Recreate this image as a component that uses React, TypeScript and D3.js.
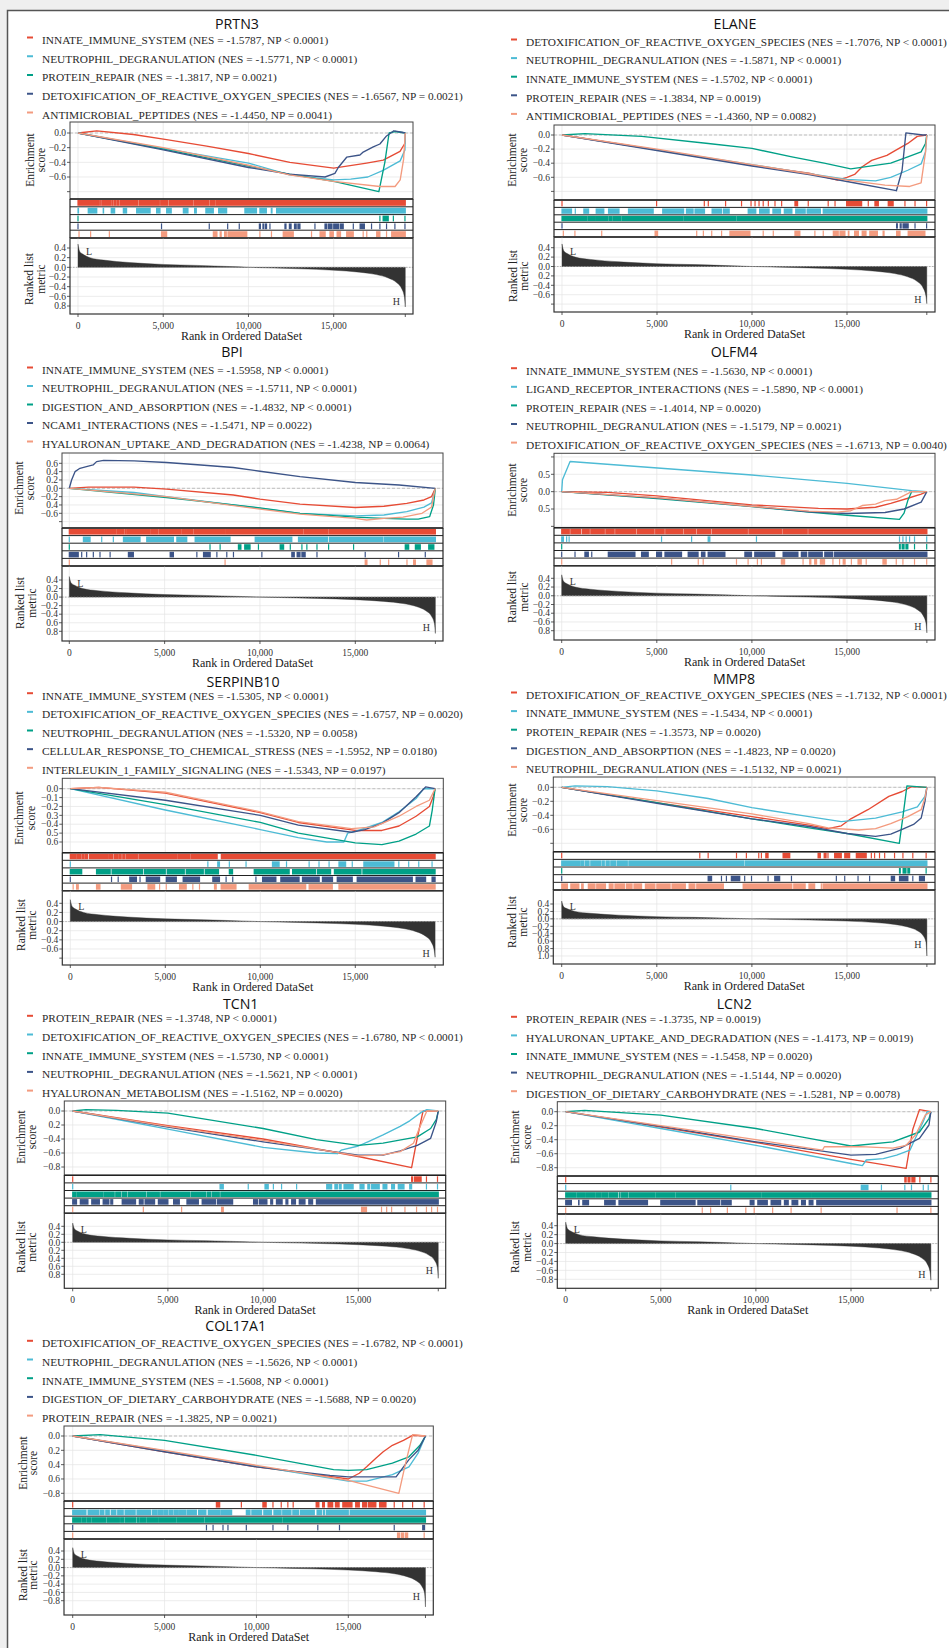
import React from 'react';
import * as d3 from 'd3';

type Pt = [number, number];
type Seg = [number, number];

const N_GENES = 19200;
const SET_COLORS = ['#E64B35', '#4DBBD5', '#00A087', '#3C5488', '#F39B7F'];
const panelTitles = ['PRTN3', 'ELANE', 'BPI', 'OLFM4', 'SERPINB10', 'MMP8', 'TCN1', 'LCN2', 'COL17A1'];
const xTickValues = [0, 5000, 10000, 15000];
const xTickLabels = ['0', '5,000', '10,000', '15,000'];

// shared ranked-list metric profile
const rankMetricRanks = [0, 30, 100, 300, 700, 1500, 3000, 5000, 7000, 9000, 10000, 11000, 13000, 15000, 16500, 17500, 18200, 18700, 19000, 19150, 19200];
const rankMetricValues = [0.48, 0.42, 0.33, 0.27, 0.2, 0.15, 0.1, 0.06, 0.04, 0.015, 0.0, -0.01, -0.03, -0.06, -0.1, -0.15, -0.22, -0.32, -0.45, -0.62, -0.82];
const rankMetricMinByPanel = [-0.82, -0.79, -0.85, -0.85, -0.78, -1.0, -0.9, -0.82, -0.95];

// ---------------- PRTN3 ----------------
const legendPRTN3 = [
  'INNATE_IMMUNE_SYSTEM (NES = -1.5787, NP < 0.0001)',
  'NEUTROPHIL_DEGRANULATION (NES = -1.5771, NP < 0.0001)',
  'PROTEIN_REPAIR (NES = -1.3817, NP = 0.0021)',
  'DETOXIFICATION_OF_REACTIVE_OXYGEN_SPECIES (NES = -1.6567, NP = 0.0021)',
  'ANTIMICROBIAL_PEPTIDES (NES = -1.4450, NP = 0.0041)',
];
const esPRTN3: Pt[][] = [
  [[0, 0], [1100, 0.03], [3250, -0.02], [5200, -0.09], [7550, -0.18], [10000, -0.28], [12430, -0.4], [15000, -0.48], [16930, -0.41], [17910, -0.37], [18890, -0.25], [19180, -0.14], [19200, 0]],
  [[0, 0], [5000, -0.21], [10000, -0.41], [12400, -0.57], [15000, -0.64], [16000, -0.63], [17000, -0.6], [17900, -0.51], [18900, -0.38], [19180, -0.23], [19200, 0]],
  [[0, 0], [5000, -0.22], [10000, -0.45], [12400, -0.56], [15000, -0.66], [17650, -0.8], [18000, -0.4], [18250, 0.0], [18600, 0.02], [19200, 0]],
  [[0, 0], [5000, -0.23], [10000, -0.47], [12400, -0.56], [14490, -0.6], [15070, -0.55], [15270, -0.47], [15760, -0.33], [16540, -0.3], [16730, -0.26], [17320, -0.19], [17710, -0.15], [18100, -0.04], [18530, 0.03], [19000, 0.01], [19200, 0]],
  [[0, 0], [5000, -0.2], [10000, -0.44], [12400, -0.57], [15000, -0.66], [17700, -0.73], [18600, -0.73], [18900, -0.64], [19100, -0.36], [19200, 0]],
];
const hitsPRTN3: Seg[][] = [
  [[0, 1250], [1330, 1360], [1430, 1900], [1980, 2040], [2110, 2240], [2310, 2400], [2470, 3500], [3580, 4770], [4850, 5260], [5340, 6720], [6800, 7660], [7740, 8050], [8130, 19200]],
  [[0, 30], [600, 1100], [1480, 1500], [1950, 2150], [2660, 2850], [3440, 4230], [4610, 4810], [5200, 5470], [6180, 6450], [6840, 6940], [7500, 7940], [8250, 8720], [9790, 10470], [10670, 11050], [11340, 11380], [11650, 19200]],
  [[0, 0], [17710, 17710], [17900, 18200], [18500, 18500], [19180, 19180]],
  [[0, 0], [4900, 4900], [7700, 7700], [8780, 8780], [9460, 9460], [10640, 10700], [10850, 10900], [11000, 11060], [11260, 11260], [12140, 12200], [12400, 12500], [12700, 12800], [12900, 13020], [13900, 13900], [14490, 14600], [14700, 14900], [15000, 15300], [15400, 15560], [16150, 16150], [16550, 16800], [17220, 17220], [17710, 17710], [18100, 18100], [18590, 18590], [19180, 19180]],
  [[60, 60], [740, 740], [1840, 1840], [4900, 5200], [7940, 8150], [8340, 8400], [8600, 8700], [8800, 9900], [10670, 10670], [11350, 11350], [12040, 12630], [13700, 13700], [14200, 14500], [14780, 14980], [15200, 15400], [15760, 16150], [16730, 16730], [16940, 16940], [17520, 17710], [18100, 18100], [18400, 19200]],
];
const esTickValsPRTN3 = [0, -0.2, -0.4, -0.6, -0.8];
const esTickLabsPRTN3 = ['0.0', '\u22120.2', '\u22120.4', '\u22120.6', ''];
const mTickValsPRTN3 = [0.4, 0.2, 0, -0.2, -0.4, -0.6, -0.8];
const mTickLabsPRTN3 = ['0.4', '0.2', '0.0', '\u22120.2', '\u22120.4', '\u22120.6', '0.8'];

// ---------------- ELANE ----------------
const legendELANE = [
  'DETOXIFICATION_OF_REACTIVE_OXYGEN_SPECIES (NES = -1.7076, NP < 0.0001)',
  'NEUTROPHIL_DEGRANULATION (NES = -1.5871, NP < 0.0001)',
  'INNATE_IMMUNE_SYSTEM (NES = -1.5702, NP < 0.0001)',
  'PROTEIN_REPAIR (NES = -1.3834, NP = 0.0019)',
  'ANTIMICROBIAL_PEPTIDES (NES = -1.4360, NP = 0.0082)',
];
const esELANE: Pt[][] = [
  [[0, 0], [5000, -0.21], [10000, -0.43], [13000, -0.54], [14500, -0.64], [15000, -0.6], [15400, -0.56], [15800, -0.45], [16300, -0.36], [17100, -0.29], [17600, -0.21], [18200, -0.12], [18700, -0.02], [19200, 0]],
  [[0, 0], [5000, -0.21], [10000, -0.42], [13000, -0.55], [15000, -0.63], [16500, -0.65], [17300, -0.6], [18200, -0.5], [18900, -0.41], [19130, -0.24], [19200, 0]],
  [[0, 0], [1200, 0.02], [4200, -0.02], [7700, -0.12], [10000, -0.19], [12100, -0.31], [13800, -0.4], [15200, -0.48], [17300, -0.4], [18200, -0.31], [18900, -0.24], [19130, -0.12], [19200, 0]],
  [[0, 0], [5000, -0.22], [10000, -0.44], [13000, -0.56], [15000, -0.66], [17600, -0.79], [17900, -0.5], [18100, 0.03], [19000, 0.0], [19200, 0]],
  [[0, 0], [5000, -0.2], [10000, -0.42], [13000, -0.55], [15000, -0.64], [17000, -0.71], [18300, -0.73], [18900, -0.68], [19130, -0.25], [19200, 0]],
];
const hitsELANE: Seg[][] = [
  [[0, 0], [4980, 4980], [7490, 7490], [7700, 7700], [8610, 8610], [9450, 9450], [9950, 9950], [10160, 10160], [10370, 10370], [10590, 10590], [10860, 10860], [11210, 11210], [11560, 11560], [12260, 12400], [12960, 12960], [14010, 14010], [14370, 14370], [14980, 15770], [16120, 16120], [16470, 16650], [17170, 17430], [18050, 18050], [18580, 18580], [19190, 19190]],
  [[0, 500], [700, 700], [1150, 1400], [1800, 2200], [2450, 3000], [3500, 4800], [5300, 6400], [6550, 6900], [7000, 7500], [7900, 8400], [8500, 8800], [9800, 10200], [10400, 10900], [11100, 11500], [11700, 12100], [12300, 12800], [12900, 13600], [13750, 19200]],
  [[0, 1300], [1360, 1710], [1770, 1970], [2030, 2410], [2470, 2640], [2700, 3110], [3170, 6180], [6240, 6350], [6410, 9160], [9220, 10920], [10980, 19200]],
  [[0, 0], [17610, 17650], [17800, 17850], [17950, 18220], [18580, 18580], [19190, 19190]],
  [[70, 70], [680, 680], [2090, 2090], [4900, 5030], [7090, 7090], [7440, 7440], [7880, 7880], [8400, 8400], [8840, 9890], [10590, 10590], [11120, 11120], [12260, 12520], [13310, 13310], [13750, 13750], [14280, 14540], [14630, 14890], [15070, 15100], [15400, 15600], [15800, 16000], [16200, 16600], [16900, 16950], [17610, 17790], [18220, 19100]],
];
const esTickValsELANE = [0, -0.2, -0.4, -0.6, -0.8];
const esTickLabsELANE = ['0.0', '\u22120.2', '\u22120.4', '\u22120.6', ''];
const mTickValsELANE = [0.4, 0.2, 0, -0.2, -0.4, -0.6, -0.8];
const mTickLabsELANE = ['0.4', '0.2', '0.0', '0.2', '\u22120.4', '\u22120.6', ''];

// ---------------- BPI ----------------
const legendBPI = [
  'INNATE_IMMUNE_SYSTEM (NES = -1.5958, NP < 0.0001)',
  'NEUTROPHIL_DEGRANULATION (NES = -1.5711, NP < 0.0001)',
  'DIGESTION_AND_ABSORPTION (NES = -1.4832, NP < 0.0001)',
  'NCAM1_INTERACTIONS (NES = -1.5471, NP = 0.0022)',
  'HYALURONAN_UPTAKE_AND_DEGRADATION (NES = -1.4238, NP = 0.0064)',
];
const esBPI: Pt[][] = [
  [[0, 0], [1000, 0.03], [3400, 0.03], [5100, -0.02], [8600, -0.16], [10000, -0.26], [12100, -0.38], [15000, -0.46], [16500, -0.43], [17700, -0.36], [18600, -0.28], [19000, -0.2], [19200, 0]],
  [[0, 0], [3400, -0.1], [5100, -0.2], [8600, -0.4], [10000, -0.48], [12100, -0.6], [15000, -0.66], [16500, -0.64], [17700, -0.56], [18600, -0.45], [19000, -0.35], [19200, 0]],
  [[0, 0], [5100, -0.22], [10000, -0.47], [12100, -0.6], [15000, -0.69], [16500, -0.72], [17700, -0.74], [18300, -0.74], [18900, -0.68], [19100, -0.4], [19200, 0]],
  [[0, 0], [120, 0.2], [300, 0.4], [560, 0.48], [900, 0.52], [1250, 0.56], [1430, 0.64], [1800, 0.67], [3400, 0.66], [5100, 0.62], [6900, 0.56], [8600, 0.5], [10000, 0.41], [12100, 0.28], [15000, 0.14], [17300, 0.08], [19200, 0]],
  [[0, 0], [5100, -0.2], [10000, -0.5], [12100, -0.62], [15000, -0.72], [15600, -0.76], [16500, -0.72], [17500, -0.69], [18500, -0.6], [19000, -0.45], [19100, -0.2], [19200, 0]],
];
const hitsBPI: Seg[][] = [
  [[0, 530], [590, 1580], [1640, 2460], [2520, 2630], [2690, 2860], [2920, 2950], [3010, 4210], [4270, 4640], [4700, 5870], [5930, 6480], [6540, 8140], [8200, 12260], [12320, 13570], [13630, 19200]],
  [[0, 0], [740, 1090], [1700, 1700], [2310, 2310], [2840, 3710], [4060, 5460], [5640, 6160], [6600, 8430], [9750, 11670], [12020, 13550], [13650, 16450], [16530, 19200]],
  [[0, 0], [7380, 7380], [7910, 7910], [8870, 9000], [9200, 9480], [9920, 9920], [11060, 11240], [11590, 11590], [12200, 12200], [12460, 12460], [12990, 12990], [13600, 13600], [14910, 14910], [17620, 17800], [18150, 18410], [18850, 19120]],
  [[0, 470], [650, 650], [910, 910], [1260, 1260], [1610, 1610], [2140, 2140], [3100, 3360], [5290, 5460], [6690, 6690], [7040, 7390], [7740, 7740], [8260, 8260], [8610, 8610], [10100, 10100], [11670, 11800], [11950, 12100], [12200, 12370], [12990, 12990], [15520, 15520], [17270, 17270], [18670, 18670]],
  [[0, 0], [8170, 8170], [15520, 15610], [16310, 16310], [16750, 16750], [17710, 17710], [18060, 18150], [18760, 19020]],
];
const esTickValsBPI = [0.6, 0.4, 0.2, 0, -0.2, -0.4, -0.6, -0.8];
const esTickLabsBPI = ['0.6', '0.4', '0.2', '0.0', '\u22120.2', '0.4', '\u22120.6', ''];
const mTickValsBPI = [0.4, 0.2, 0, -0.2, -0.4, -0.6, -0.8];
const mTickLabsBPI = ['0.4', '0.2', '0.0', '\u22120.2', '\u22120.4', '0.6', '0.8'];

// ---------------- OLFM4 ----------------
const legendOLFM4 = [
  'INNATE_IMMUNE_SYSTEM (NES = -1.5630, NP < 0.0001)',
  'LIGAND_RECEPTOR_INTERACTIONS (NES = -1.5890, NP < 0.0001)',
  'PROTEIN_REPAIR (NES = -1.4014, NP = 0.0020)',
  'NEUTROPHIL_DEGRANULATION (NES = -1.5179, NP = 0.0021)',
  'DETOXIFICATION_OF_REACTIVE_OXYGEN_SPECIES (NES = -1.6713, NP = 0.0040)',
];
const esOLFM4: Pt[][] = [
  [[0, 0], [2400, -0.02], [5000, -0.12], [10000, -0.38], [13500, -0.48], [15000, -0.5], [16500, -0.45], [17300, -0.34], [18200, -0.19], [18900, -0.07], [19200, 0]],
  [[0, 0], [40, 0.34], [440, 0.87], [10000, 0.48], [15000, 0.24], [18400, 0.03], [19200, 0]],
  [[0, 0], [5000, -0.2], [10000, -0.43], [13000, -0.59], [15000, -0.68], [17760, -0.8], [18000, -0.62], [18200, -0.25], [18400, 0.0], [19200, 0]],
  [[0, 0], [5000, -0.18], [10000, -0.42], [13000, -0.58], [15000, -0.63], [17000, -0.6], [18000, -0.5], [18900, -0.3], [19200, 0]],
  [[0, 0], [5000, -0.17], [10000, -0.42], [13000, -0.56], [14500, -0.59], [15200, -0.55], [15800, -0.4], [16500, -0.36], [17000, -0.26], [17600, -0.22], [18400, 0.0], [19200, 0]],
];
const hitsOLFM4: Seg[][] = [
  [[0, 400], [480, 1000], [1090, 1450], [1530, 2240], [2320, 2760], [2840, 3900], [3980, 4860], [4940, 5390], [5470, 6350], [6430, 7050], [7130, 7840], [7920, 9760], [9840, 11550], [11630, 12910], [12990, 19200]],
  [[0, 90], [260, 260], [390, 390], [5250, 5250], [6830, 6830], [7700, 7790], [10240, 10240], [17760, 17760], [17940, 17940], [18110, 18110], [18290, 18290], [18550, 18550], [19190, 19190]],
  [[0, 0], [17760, 17800], [17900, 18000], [18100, 18200], [18550, 18550], [19190, 19190]],
  [[0, 0], [700, 700], [1220, 1400], [1580, 1580], [2450, 3850], [4200, 4550], [4990, 5250], [5430, 6300], [6650, 7170], [7350, 7530], [7700, 8580], [9630, 9980], [10150, 11200], [11640, 12420], [12600, 12880], [12990, 13700], [13830, 14250], [14350, 19200]],
  [[0, 0], [5780, 5780], [7180, 7180], [7440, 7440], [9190, 9190], [9800, 9800], [10290, 10290], [10500, 10500], [11550, 11720], [12690, 12690], [13040, 13100], [13300, 13400], [13600, 13820], [14260, 14260], [14610, 14610], [14800, 14900], [15230, 15230], [15580, 15750], [16010, 16010], [16890, 17060], [17590, 17590], [17940, 17940], [18550, 18550], [19190, 19190]],
];
const esTickValsOLFM4 = [1.0, 0.5, 0, -0.5, -1.0];
const esTickLabsOLFM4 = ['', '0.5', '0.0', '0.5', ''];
const mTickValsOLFM4 = [0.4, 0.2, 0, -0.2, -0.4, -0.6, -0.8];
const mTickLabsOLFM4 = ['0.4', '0.2', '0.0', '\u22120.2', '\u22120.4', '\u22120.6', '0.8'];

// ---------------- SERPINB10 ----------------
const legendSERPINB10 = [
  'INNATE_IMMUNE_SYSTEM (NES = -1.5305, NP < 0.0001)',
  'DETOXIFICATION_OF_REACTIVE_OXYGEN_SPECIES (NES = -1.6757, NP = 0.0020)',
  'NEUTROPHIL_DEGRANULATION (NES = -1.5320, NP = 0.0058)',
  'CELLULAR_RESPONSE_TO_CHEMICAL_STRESS (NES = -1.5952, NP = 0.0180)',
  'INTERLEUKIN_1_FAMILY_SIGNALING (NES = -1.5343, NP = 0.0197)',
];
const esSERPINB10: Pt[][] = [
  [[0, 0], [1500, 0.015], [5000, -0.05], [10000, -0.27], [12000, -0.38], [15000, -0.47], [16400, -0.47], [17300, -0.42], [18200, -0.31], [18900, -0.2], [19100, -0.09], [19200, 0]],
  [[0, 0], [5000, -0.24], [10000, -0.46], [12000, -0.55], [13500, -0.6], [14400, -0.6], [14600, -0.5], [15000, -0.48], [16400, -0.38], [17300, -0.26], [18200, -0.11], [18600, 0.0], [19200, 0]],
  [[0, 0], [5000, -0.18], [10000, -0.38], [12000, -0.5], [15000, -0.61], [16400, -0.63], [17300, -0.59], [18200, -0.51], [18900, -0.42], [19050, -0.24], [19200, 0]],
  [[0, 0], [5000, -0.13], [10000, -0.3], [12000, -0.41], [14800, -0.49], [15500, -0.46], [16400, -0.39], [17300, -0.27], [18200, -0.09], [18700, 0.02], [19200, 0]],
  [[0, 0], [1500, 0.015], [5000, -0.04], [10000, -0.26], [12000, -0.37], [14800, -0.45], [16000, -0.43], [17300, -0.31], [18200, -0.2], [18900, -0.13], [19200, 0]],
];
const hitsSERPINB10: Seg[][] = [
  [[0, 310], [360, 560], [620, 730], [790, 900], [1000, 1960], [2020, 2220], [2300, 2490], [2550, 2680], [2760, 2860], [2930, 3530], [3610, 5630], [5700, 6300], [6360, 7730], [7950, 19200]],
  [[0, 0], [7240, 7240], [7760, 7850], [8370, 8370], [9250, 9250], [10640, 10990], [11380, 11380], [12570, 12570], [13090, 13090], [13620, 13620], [14140, 14490], [14840, 14840], [15450, 17030], [17290, 17290], [17810, 17810], [18340, 18340], [19040, 19040]],
  [[0, 600], [1380, 2100], [2200, 3800], [3900, 5000], [5100, 6000], [6100, 7000], [7100, 7800], [8370, 8540], [9680, 11520], [11700, 12900], [13000, 13700], [13900, 15300], [15400, 19200]],
  [[0, 0], [2170, 2170], [2520, 2520], [3130, 3480], [3670, 3670], [4000, 4700], [5050, 5580], [5940, 6800], [7500, 7850], [8200, 8200], [8550, 8550], [9770, 9770], [10120, 10820], [11080, 12040], [12220, 13100], [13270, 13800], [14050, 14840], [15100, 18000], [18200, 18700], [19040, 19200]],
  [[150, 150], [330, 420], [1380, 1560], [2690, 3220], [4090, 4440], [4700, 4700], [5050, 5050], [5750, 6100], [6450, 6450], [6800, 6800], [7590, 7680], [7940, 8720], [9420, 12390], [12570, 13790], [14140, 19200]],
];
const esTickValsSERPINB10 = [0, -0.1, -0.2, -0.3, -0.4, -0.5, -0.6];
const esTickLabsSERPINB10 = ['0.0', '\u22120.1', '\u22120.2', '0.3', '\u22120.4', '0.5', '0.6'];
const mTickValsSERPINB10 = [0.4, 0.2, 0, -0.2, -0.4, -0.6, -0.8];
const mTickLabsSERPINB10 = ['0.4', '0.2', '0.0', '0.2', '\u22120.4', '\u22120.6', ''];

// ---------------- MMP8 ----------------
const legendMMP8 = [
  'DETOXIFICATION_OF_REACTIVE_OXYGEN_SPECIES (NES = -1.7132, NP < 0.0001)',
  'INNATE_IMMUNE_SYSTEM (NES = -1.5434, NP < 0.0001)',
  'PROTEIN_REPAIR (NES = -1.3573, NP = 0.0020)',
  'DIGESTION_AND_ABSORPTION (NES = -1.4823, NP = 0.0020)',
  'NEUTROPHIL_DEGRANULATION (NES = -1.5132, NP = 0.0021)',
];
const esMMP8: Pt[][] = [
  [[0, 0], [5000, -0.22], [10000, -0.42], [13000, -0.54], [14000, -0.59], [14700, -0.55], [15200, -0.45], [16100, -0.32], [17200, -0.13], [17900, -0.06], [18400, 0.01], [19200, 0]],
  [[0, 0], [700, 0.02], [2400, 0.01], [5000, -0.05], [7700, -0.16], [10000, -0.29], [13000, -0.42], [14700, -0.49], [16500, -0.44], [17900, -0.35], [18700, -0.28], [19100, -0.13], [19200, 0]],
  [[0, 0], [5000, -0.22], [10000, -0.45], [13000, -0.58], [15000, -0.66], [17750, -0.8], [17950, -0.4], [18150, 0.02], [19200, 0]],
  [[0, 0], [5000, -0.23], [10000, -0.45], [13000, -0.56], [15000, -0.66], [16500, -0.7], [17300, -0.67], [17900, -0.6], [18500, -0.53], [18900, -0.44], [19100, -0.2], [19200, 0]],
  [[0, 0], [5000, -0.19], [10000, -0.38], [13000, -0.52], [14000, -0.58], [15600, -0.61], [16500, -0.59], [17300, -0.52], [18200, -0.42], [18900, -0.32], [19100, -0.15], [19200, 0]],
];
const hitsMMP8: Seg[][] = [
  [[0, 0], [7260, 7260], [7700, 7700], [9190, 9190], [9710, 9710], [10360, 10360], [10500, 10500], [10730, 10850], [11640, 11990], [13480, 13600], [13800, 13900], [14000, 14000], [14350, 14700], [14880, 15140], [15490, 16010], [16280, 16280], [16450, 16450], [16710, 16710], [16980, 16980], [17500, 17500], [17940, 17940], [18460, 18460], [19160, 19160]],
  [[0, 930], [1000, 1150], [1230, 1440], [1530, 2070], [2150, 2240], [2330, 2500], [2580, 2850], [2930, 3450], [3530, 9580], [9660, 19200]],
  [[0, 0], [17760, 17800], [17950, 18100], [18200, 18290], [19160, 19160]],
  [[0, 0], [7700, 7880], [8400, 8400], [8660, 8660], [8920, 9360], [9620, 9620], [9980, 9980], [10850, 10850], [11200, 11460], [12080, 12080], [14440, 14440], [14880, 14880], [15580, 15580], [16190, 16190], [17330, 17500], [17760, 18200], [18460, 18460], [18810, 19070]],
  [[0, 300], [480, 900], [1050, 1130], [1400, 1750], [1840, 2300], [2500, 2700], [2800, 3300], [3400, 3700], [3800, 4200], [4400, 4900], [5000, 5700], [5800, 6500], [6700, 7000], [7100, 8500], [9540, 12100], [12200, 12800], [13000, 13300], [13650, 13650], [13740, 19200]],
];
const esTickValsMMP8 = [0, -0.2, -0.4, -0.6, -0.8];
const esTickLabsMMP8 = ['0.0', '\u22120.2', '\u22120.4', '\u22120.6', ''];
const mTickValsMMP8 = [0.4, 0.2, 0, -0.2, -0.4, -0.6, -0.8, -1.0];
const mTickLabsMMP8 = ['0.4', '0.2', '0.0', '\u22120.2', '\u22120.4', '0.6', '0.8', '1.0'];

// ---------------- TCN1 ----------------
const legendTCN1 = [
  'PROTEIN_REPAIR (NES = -1.3748, NP < 0.0001)',
  'DETOXIFICATION_OF_REACTIVE_OXYGEN_SPECIES (NES = -1.6780, NP < 0.0001)',
  'INNATE_IMMUNE_SYSTEM (NES = -1.5730, NP < 0.0001)',
  'NEUTROPHIL_DEGRANULATION (NES = -1.5621, NP < 0.0001)',
  'HYALURONAN_METABOLISM (NES = -1.5162, NP = 0.0020)',
];
const esTCN1: Pt[][] = [
  [[0, 0], [5000, -0.21], [10000, -0.4], [15000, -0.65], [17800, -0.81], [18050, -0.45], [18400, 0.0], [19200, 0]],
  [[0, 0], [5000, -0.26], [10000, -0.52], [12800, -0.6], [13900, -0.61], [14100, -0.56], [15000, -0.5], [15500, -0.44], [16300, -0.34], [17200, -0.22], [17700, -0.14], [18300, -0.02], [18600, 0.02], [19200, 0]],
  [[0, 0], [700, 0.02], [2300, 0.01], [5000, -0.03], [10000, -0.25], [12800, -0.41], [15000, -0.49], [16300, -0.46], [18100, -0.37], [18800, -0.25], [19100, -0.12], [19200, 0]],
  [[0, 0], [5000, -0.23], [10000, -0.44], [15000, -0.63], [16300, -0.63], [17200, -0.57], [18100, -0.49], [18800, -0.39], [19100, -0.15], [19200, 0]],
  [[0, 0], [5000, -0.22], [10000, -0.42], [15000, -0.64], [16200, -0.63], [17200, -0.58], [17900, -0.46], [18200, -0.25], [18600, 0.0], [19200, 0]],
];
const hitsTCN1: Seg[][] = [
  [[0, 0], [17800, 17850], [17950, 18300], [18580, 18580], [19160, 19160]],
  [[0, 0], [7740, 7910], [9220, 9220], [10100, 10270], [10540, 10540], [10970, 10970], [11760, 11760], [13340, 13600], [13770, 13900], [14000, 14100], [14250, 14730], [15090, 15300], [15500, 15600], [15700, 16100], [16300, 16500], [16750, 16900], [17100, 17400], [17700, 17800], [18580, 18580], [19160, 19160]],
  [[0, 180], [240, 1580], [1640, 2180], [2260, 2520], [2600, 2830], [2910, 3840], [3920, 4550], [4630, 6130], [6210, 7000], [7080, 7260], [7340, 7700], [7780, 19200]],
  [[0, 200], [400, 800], [1000, 1400], [1600, 1900], [2000, 2100], [2600, 3300], [3500, 3700], [3800, 4300], [4500, 5000], [5300, 5600], [6000, 6600], [6800, 7500], [7600, 8400], [9500, 9700], [9800, 10200], [10400, 10500], [10700, 11000], [11200, 11300], [11500, 11700], [11900, 12200], [12400, 12600], [12800, 19200]],
  [[0, 0], [3710, 3710], [5720, 5720], [7820, 7910], [15170, 15430], [16220, 16220], [16490, 16490], [16750, 16750], [17450, 17450], [18060, 18060], [18580, 18580], [18850, 18850], [19160, 19160]],
];
const esTickValsTCN1 = [0, -0.2, -0.4, -0.6, -0.8];
const esTickLabsTCN1 = ['0.0', '0.2', '\u22120.4', '\u22120.6', '\u22120.8'];
const mTickValsTCN1 = [0.4, 0.2, 0, -0.2, -0.4, -0.6, -0.8];
const mTickLabsTCN1 = ['0.4', '0.2', '0.0', '0.2', '0.4', '0.6', '0.8'];

// ---------------- LCN2 ----------------
const legendLCN2 = [
  'PROTEIN_REPAIR (NES = -1.3735, NP = 0.0019)',
  'HYALURONAN_UPTAKE_AND_DEGRADATION (NES = -1.4173, NP = 0.0019)',
  'INNATE_IMMUNE_SYSTEM (NES = -1.5458, NP = 0.0020)',
  'NEUTROPHIL_DEGRANULATION (NES = -1.5144, NP = 0.0020)',
  'DIGESTION_OF_DIETARY_CARBOHYDRATE (NES = -1.5281, NP = 0.0078)',
];
const esLCN2: Pt[][] = [
  [[0, 0], [5000, -0.22], [10000, -0.44], [15000, -0.68], [17900, -0.81], [18250, -0.25], [18600, 0.03], [19200, 0]],
  [[0, 0], [5000, -0.24], [10000, -0.48], [15000, -0.74], [15600, -0.77], [15800, -0.69], [16700, -0.67], [17400, -0.62], [18100, -0.55], [18300, -0.43], [18800, -0.14], [19000, 0.0], [19200, 0]],
  [[0, 0], [1000, 0.02], [5000, -0.05], [10000, -0.24], [12800, -0.38], [15000, -0.49], [17200, -0.43], [18600, -0.29], [19100, -0.1], [19200, 0]],
  [[0, 0], [5000, -0.21], [10000, -0.43], [15000, -0.62], [16300, -0.61], [17600, -0.52], [18600, -0.38], [19100, -0.19], [19200, 0]],
  [[0, 0], [5000, -0.2], [10000, -0.4], [12800, -0.52], [13500, -0.55], [13600, -0.5], [15500, -0.5], [17200, -0.52], [17900, -0.48], [18400, -0.33], [18900, -0.05], [19200, 0]],
];
const hitsLCN2: Seg[][] = [
  [[0, 0], [17830, 17900], [18000, 18100], [18200, 18360], [18620, 18620], [19200, 19200]],
  [[0, 0], [8680, 8680], [15540, 15890], [16600, 16600], [17830, 17830], [18180, 18180], [18800, 18800], [19060, 19060]],
  [[0, 550], [610, 990], [1050, 1520], [1580, 1870], [1930, 2220], [2280, 2740], [2830, 2860], [2940, 3270], [3340, 4680], [4740, 5740], [5800, 10280], [10340, 12870], [12930, 19200]],
  [[0, 300], [680, 700], [900, 1200], [2050, 2600], [2800, 4300], [5000, 6800], [6950, 8100], [8200, 8700], [9700, 9900], [10100, 10600], [10800, 11300], [11500, 11700], [11900, 12200], [12400, 12600], [12800, 13000], [13200, 19200]],
  [[0, 0], [7180, 7180], [7620, 7620], [8500, 8500], [9470, 9470], [9910, 9910], [10880, 10880], [11850, 11850], [13430, 13430], [17420, 17420], [19200, 19200]],
];
const esTickValsLCN2 = [0, -0.2, -0.4, -0.6, -0.8];
const esTickLabsLCN2 = ['0.0', '0.2', '\u22120.4', '\u22120.6', '\u22120.8'];
const mTickValsLCN2 = [0.4, 0.2, 0, -0.2, -0.4, -0.6, -0.8];
const mTickLabsLCN2 = ['0.4', '0.2', '0.0', '0.2', '\u22120.4', '\u22120.6', '\u22120.8'];

// ---------------- COL17A1 ----------------
const legendCOL17A1 = [
  'DETOXIFICATION_OF_REACTIVE_OXYGEN_SPECIES (NES = -1.6782, NP < 0.0001)',
  'NEUTROPHIL_DEGRANULATION (NES = -1.5626, NP < 0.0001)',
  'INNATE_IMMUNE_SYSTEM (NES = -1.5608, NP < 0.0001)',
  'DIGESTION_OF_DIETARY_CARBOHYDRATE (NES = -1.5688, NP = 0.0020)',
  'PROTEIN_REPAIR (NES = -1.3825, NP = 0.0021)',
];
const esCOL17A1: Pt[][] = [
  [[0, 0], [5000, -0.22], [10000, -0.43], [14200, -0.57], [15000, -0.6], [15600, -0.52], [16000, -0.43], [16500, -0.31], [16900, -0.22], [17400, -0.13], [18000, -0.06], [18500, 0.01], [19200, 0]],
  [[0, 0], [5000, -0.21], [10000, -0.42], [15000, -0.63], [16000, -0.63], [17400, -0.54], [18300, -0.43], [18800, -0.24], [19200, 0]],
  [[0, 0], [1500, 0.02], [5000, -0.06], [10000, -0.27], [14200, -0.47], [15000, -0.48], [16000, -0.47], [17400, -0.38], [18300, -0.29], [18900, -0.13], [19200, 0]],
  [[0, 0], [5000, -0.22], [10000, -0.43], [14000, -0.55], [15000, -0.57], [17600, -0.57], [18300, -0.33], [18800, -0.2], [19200, 0]],
  [[0, 0], [5000, -0.2], [10000, -0.41], [15000, -0.62], [17750, -0.8], [18100, -0.4], [18500, 0.02], [19200, 0]],
];
const hitsCOL17A1: Seg[][] = [
  [[0, 0], [7820, 8000], [9180, 9180], [10350, 10530], [10900, 10900], [11350, 11350], [11710, 11710], [12000, 12000], [13250, 13400], [13600, 13700], [13900, 14150], [14300, 14500], [14700, 15200], [15400, 15600], [15780, 16000], [16100, 16500], [16700, 17050], [17500, 17500], [17960, 17960], [18500, 18500], [19130, 19130]],
  [[0, 720], [840, 1420], [1500, 1700], [1800, 1990], [2100, 2350], [2450, 2750], [2850, 3400], [3500, 4230], [4330, 4560], [4630, 4930], [5000, 5180], [5250, 5460], [5530, 5750], [5820, 6170], [6250, 6730], [6850, 7250], [7380, 7990], [8060, 8650], [9450, 9650], [9750, 10280], [10400, 10820], [10950, 11340], [11430, 11880], [11980, 12300], [12400, 13150], [13300, 13550], [13650, 13700], [13800, 15000], [15100, 19200]],
  [[0, 460], [520, 730], [790, 1000], [1060, 1810], [1880, 2540], [2610, 2780], [2850, 3420], [3500, 3620], [3680, 3980], [4040, 4620], [4680, 5610], [5670, 7150], [7220, 11400], [11470, 19200]],
  [[0, 0], [7280, 7280], [7640, 7640], [8180, 8180], [8450, 8450], [9450, 9450], [10900, 10900], [11710, 11710], [13340, 13340], [14520, 14520], [17500, 17500], [19050, 19150]],
  [[0, 0], [17680, 17800], [17900, 18000], [18100, 18230], [19130, 19130]],
];
const esTickValsCOL17A1 = [0, -0.2, -0.4, -0.6, -0.8];
const esTickLabsCOL17A1 = ['0.0', '0.2', '0.4', '0.6', '\u22120.8'];
const mTickValsCOL17A1 = [0.4, 0.2, 0, -0.2, -0.4, -0.6, -0.8];
const mTickLabsCOL17A1 = ['0.4', '0.2', '0.0', '\u22120.2', '\u22120.4', '\u22120.6', '\u22120.8'];

// ---------------- layout (pixel positions only) ----------------
type Layout = {
  title: [number, number];
  legend: [number, number, number, number];
  left: number; right: number; esTop: number; esBottom: number; trackBottom: number; rankBottom: number;
  x0: number; x15: number;
  esA: [number, number][]; mA: [number, number][];
  esLab: [number, number, number]; rkLab: [number, number, number];
};
const layouts: Layout[] = [
  { title: [237, 24], legend: [27, 42, 40, 18.75], left: 70, right: 413, esTop: 122, esBottom: 199, trackBottom: 238, rankBottom: 314, x0: 78, x15: 333.7, esA: [[0, 133], [-0.6, 177]], mA: [[0.4, 248], [-0.8, 306]], esLab: [30, 41, 160], rkLab: [29, 41, 279] },
  { title: [735, 24], legend: [511, 526, 42, 18.6], left: 554, right: 935, esTop: 125, esBottom: 200, trackBottom: 237, rankBottom: 312, x0: 562, x15: 847, esA: [[0, 135], [-0.6, 177.3]], mA: [[0.4, 247.7], [-0.6, 294.7]], esLab: [512, 523, 160], rkLab: [513, 524, 276] },
  { title: [232, 352], legend: [27, 42, 370, 18.5], left: 62, right: 443, esTop: 453, esBottom: 528, trackBottom: 566, rankBottom: 641, x0: 69.3, x15: 355.3, esA: [[0.6, 463.3], [-0.6, 513.3]], mA: [[0.4, 580], [-0.8, 631.3]], esLab: [19, 30, 488], rkLab: [20, 32, 603] },
  { title: [734, 352], legend: [511, 526, 370.7, 18.6], left: 554, right: 935, esTop: 453.3, esBottom: 527.7, trackBottom: 565.7, rankBottom: 640, x0: 561.7, x15: 847, esA: [[0.5, 474.3], [-0.5, 509]], mA: [[0.4, 578.3], [-0.8, 630.7]], esLab: [512, 523, 490], rkLab: [512, 524, 597] },
  { title: [243, 681.7], legend: [27, 42, 695.7, 18.65], left: 62.3, right: 443.3, esTop: 778.3, esBottom: 852.7, trackBottom: 890.7, rankBottom: 965, x0: 70.3, x15: 355.3, esA: [[0, 788.7], [-0.6, 842]], mA: [[0.4, 903.3], [-0.6, 949]], esLab: [19, 31, 818], rkLab: [21, 32, 925] },
  { title: [734, 678.3], legend: [511, 526, 695, 18.6], left: 553.3, right: 935, esTop: 777, esBottom: 851.7, trackBottom: 890, rankBottom: 964, x0: 561.7, x15: 847, esA: [[0, 787.3], [-0.6, 829.3]], mA: [[0.4, 904], [-1.0, 956]], esLab: [512, 523, 810], rkLab: [512, 523, 922] },
  { title: [240.7, 1003.3], legend: [27, 42, 1018.3, 18.7], left: 64.3, right: 445.7, esTop: 1101, esBottom: 1175.3, trackBottom: 1213.3, rankBottom: 1288.3, x0: 72.7, x15: 358.3, esA: [[0, 1111], [-0.8, 1167]], mA: [[0.4, 1226.3], [-0.8, 1274.3]], esLab: [21, 32, 1137], rkLab: [21, 32, 1247] },
  { title: [734.3, 1003.3], legend: [511, 526, 1019.3, 18.6], left: 557.3, right: 938.3, esTop: 1101.7, esBottom: 1176, trackBottom: 1214, rankBottom: 1288.3, x0: 565.7, x15: 851, esA: [[0, 1111.7], [-0.8, 1167.7]], mA: [[0.4, 1225.7], [-0.8, 1279.3]], esLab: [515, 527, 1137], rkLab: [515, 527, 1247] },
  { title: [235.7, 1326], legend: [27, 42, 1343.3, 18.7], left: 64, right: 433.3, esTop: 1426, esBottom: 1501, trackBottom: 1539, rankBottom: 1615, x0: 72.7, x15: 348.3, esA: [[0, 1436], [-0.8, 1493.3]], mA: [[0.4, 1551], [-0.8, 1600.7]], esLab: [23, 33, 1463], rkLab: [23, 33, 1575] },
];

const panelData = [
  { legend: legendPRTN3, es: esPRTN3, hits: hitsPRTN3, esTV: esTickValsPRTN3, esTL: esTickLabsPRTN3, mTV: mTickValsPRTN3, mTL: mTickLabsPRTN3 },
  { legend: legendELANE, es: esELANE, hits: hitsELANE, esTV: esTickValsELANE, esTL: esTickLabsELANE, mTV: mTickValsELANE, mTL: mTickLabsELANE },
  { legend: legendBPI, es: esBPI, hits: hitsBPI, esTV: esTickValsBPI, esTL: esTickLabsBPI, mTV: mTickValsBPI, mTL: mTickLabsBPI },
  { legend: legendOLFM4, es: esOLFM4, hits: hitsOLFM4, esTV: esTickValsOLFM4, esTL: esTickLabsOLFM4, mTV: mTickValsOLFM4, mTL: mTickLabsOLFM4 },
  { legend: legendSERPINB10, es: esSERPINB10, hits: hitsSERPINB10, esTV: esTickValsSERPINB10, esTL: esTickLabsSERPINB10, mTV: mTickValsSERPINB10, mTL: mTickLabsSERPINB10 },
  { legend: legendMMP8, es: esMMP8, hits: hitsMMP8, esTV: esTickValsMMP8, esTL: esTickLabsMMP8, mTV: mTickValsMMP8, mTL: mTickLabsMMP8 },
  { legend: legendTCN1, es: esTCN1, hits: hitsTCN1, esTV: esTickValsTCN1, esTL: esTickLabsTCN1, mTV: mTickValsTCN1, mTL: mTickLabsTCN1 },
  { legend: legendLCN2, es: esLCN2, hits: hitsLCN2, esTV: esTickValsLCN2, esTL: esTickLabsLCN2, mTV: mTickValsLCN2, mTL: mTickLabsLCN2 },
  { legend: legendCOL17A1, es: esCOL17A1, hits: hitsCOL17A1, esTV: esTickValsCOL17A1, esTL: esTickLabsCOL17A1, mTV: mTickValsCOL17A1, mTL: mTickLabsCOL17A1 },
];

const SERIF = "'Liberation Serif', 'Times New Roman', serif";
const SANS = "'Open Sans', 'Liberation Sans', sans-serif";
const GRID = '#e4e4e4';

function GseaPanel({ idx }: { idx: number }) {
  const L = layouts[idx];
  const d = panelData[idx];
  const x = d3.scaleLinear().domain([0, 15000]).range([L.x0, L.x15]);
  const yEs = d3.scaleLinear().domain([L.esA[0][0], L.esA[1][0]]).range([L.esA[0][1], L.esA[1][1]]);
  const yM = d3.scaleLinear().domain([L.mA[0][0], L.mA[1][0]]).range([L.mA[0][1], L.mA[1][1]]);
  const line = d3.line<Pt>().x((p) => x(p[0])).y((p) => yEs(p[1]));
  const last = rankMetricRanks.length - 1;
  const metricPts: Pt[] = rankMetricRanks.map((r, i) => [r, i === last ? rankMetricMinByPanel[idx] : rankMetricValues[i]]);
  const area = d3.area<Pt>().x((p) => x(p[0])).y0(yM(0)).y1((p) => yM(p[1])).curve(d3.curveMonotoneX);
  const rowH = (L.trackBottom - L.esBottom) / 5;
  const clipId = `clip-es-${idx}`;
  const xEnd = x(N_GENES);
  const boxCx = (L.left + L.right) / 2;
  const [mx, tx, ly0, ldy] = L.legend;

  return (
    <g>
      <defs>
        <clipPath id={clipId}>
          <rect x={L.left} y={L.esTop} width={L.right - L.left} height={L.esBottom - L.esTop} />
        </clipPath>
      </defs>
      <text x={L.title[0]} y={L.title[1] + 5.3} textAnchor="middle" fontFamily={SANS} fontSize={14.2} fill="#111">
        {panelTitles[idx]}
      </text>
      {d.legend.map((lab, i) => (
        <g key={i}>
          <line x1={mx} x2={mx + 6} y1={ly0 + i * ldy - 2.5} y2={ly0 + i * ldy - 2.5} stroke={SET_COLORS[i]} strokeWidth={2} />
          <text x={tx} y={ly0 + i * ldy + 3.8} fontFamily={SERIF} fontSize={11.35} fill="#2a2a2a">{lab}</text>
        </g>
      ))}
      <rect x={L.left} y={L.esTop} width={L.right - L.left} height={L.esBottom - L.esTop} fill="#fff" />
      {xTickValues.map((v) => (
        <line key={'gx' + v} x1={x(v)} x2={x(v)} y1={L.esTop} y2={L.esBottom} stroke={GRID} strokeWidth={0.7} />
      ))}
      {d.esTV.map((v, i) => (
        <line key={'gy' + i} x1={L.left} x2={L.right} y1={yEs(v)} y2={yEs(v)} stroke={GRID} strokeWidth={0.7} />
      ))}
      <line x1={L.left} x2={L.right} y1={yEs(0)} y2={yEs(0)} stroke="#aaa" strokeWidth={0.7} strokeDasharray="3,2" />
      <g clipPath={`url(#${clipId})`}>
        {d.es.map((c, i) => (
          <path key={i} d={line(c) || ''} fill="none" stroke={SET_COLORS[i]} strokeWidth={1.35} strokeLinejoin="round" />
        ))}
      </g>
      <rect x={L.left} y={L.esTop} width={L.right - L.left} height={L.esBottom - L.esTop} fill="none" stroke="#444" strokeWidth={1} />
      {d.esTV.map((v, i) => (
        <g key={'et' + i}>
          <line x1={L.left - 3} x2={L.left} y1={yEs(v)} y2={yEs(v)} stroke="#333" strokeWidth={0.8} />
          {d.esTL[i] ? (
            <text x={L.left - 4} y={yEs(v)} dy="0.34em" textAnchor="end" fontFamily={SERIF} fontSize={9.5} fill="#333">{d.esTL[i]}</text>
          ) : null}
        </g>
      ))}
      {d.hits.map((segs, r) => (
        <g key={'tr' + r}>
          {segs.map((s, j) => {
            const a = Math.min(s[0], N_GENES);
            const b = Math.min(s[1], N_GENES);
            const x1 = x(a) - 0.6;
            const w = Math.max(x(b) - x(a), 0) + 1.2;
            return <rect key={j} x={x1} y={L.esBottom + r * rowH + 1} width={w} height={rowH - 2} fill={SET_COLORS[r]} />;
          })}
        </g>
      ))}
      {[0, 1, 2, 3, 4, 5].map((r) => (
        <line key={'rl' + r} x1={L.left} x2={L.right} y1={L.esBottom + r * rowH} y2={L.esBottom + r * rowH} stroke="#222" strokeWidth={r === 0 || r === 5 ? 1.4 : 1} />
      ))}
      <line x1={L.left} x2={L.left} y1={L.esBottom} y2={L.trackBottom} stroke="#222" strokeWidth={1.2} />
      <line x1={L.right} x2={L.right} y1={L.esBottom} y2={L.trackBottom} stroke="#222" strokeWidth={1.2} />
      {xTickValues.map((v) => (
        <line key={'mgx' + v} x1={x(v)} x2={x(v)} y1={L.trackBottom} y2={L.rankBottom} stroke={GRID} strokeWidth={0.7} />
      ))}
      {d.mTV.map((v, i) => (
        <line key={'mgy' + i} x1={L.left} x2={L.right} y1={yM(v)} y2={yM(v)} stroke={GRID} strokeWidth={0.7} />
      ))}
      <path d={area(metricPts) || ''} fill="#333" stroke="#333" strokeWidth={0.4} />
      <line x1={L.left} x2={L.right} y1={yM(0)} y2={yM(0)} stroke="#999" strokeWidth={0.7} strokeDasharray="1.5,1.5" />
      <text x={x(0) + 8} y={yM(0.32)} dy="0.35em" fontFamily={SERIF} fontSize={10} fill="#333">L</text>
      <text x={xEnd - 9} y={yM(-0.7)} dy="0.35em" textAnchor="middle" fontFamily={SERIF} fontSize={10} fill="#333">H</text>
      <rect x={L.left} y={L.trackBottom} width={L.right - L.left} height={L.rankBottom - L.trackBottom} fill="none" stroke="#333" strokeWidth={1.2} />
      {d.mTV.map((v, i) => (
        <g key={'mt' + i}>
          <line x1={L.left - 3} x2={L.left} y1={yM(v)} y2={yM(v)} stroke="#333" strokeWidth={0.8} />
          {d.mTL[i] ? (
            <text x={L.left - 4} y={yM(v)} dy="0.34em" textAnchor="end" fontFamily={SERIF} fontSize={9.5} fill="#333">{d.mTL[i]}</text>
          ) : null}
        </g>
      ))}
      {[...xTickValues, N_GENES].map((v, i) => (
        <g key={'xt' + i}>
          <line x1={x(v)} x2={x(v)} y1={L.rankBottom} y2={L.rankBottom + 3} stroke="#333" strokeWidth={0.8} />
          {i < xTickLabels.length ? (
            <text x={x(v)} y={L.rankBottom + 15} textAnchor="middle" fontFamily={SERIF} fontSize={9.5} fill="#333">{xTickLabels[i]}</text>
          ) : null}
        </g>
      ))}
      <text x={boxCx} y={L.rankBottom + 26} textAnchor="middle" fontFamily={SERIF} fontSize={12} fill="#222">Rank in Ordered DataSet</text>
      <text transform={`translate(${L.esLab[0]},${L.esLab[2]}) rotate(-90)`} dy="0.35em" textAnchor="middle" fontFamily={SERIF} fontSize={11.5} fill="#222">Enrichment</text>
      <text transform={`translate(${L.esLab[1]},${L.esLab[2]}) rotate(-90)`} dy="0.35em" textAnchor="middle" fontFamily={SERIF} fontSize={11.5} fill="#222">score</text>
      <text transform={`translate(${L.rkLab[0]},${L.rkLab[2]}) rotate(-90)`} dy="0.35em" textAnchor="middle" fontFamily={SERIF} fontSize={11.5} fill="#222">Ranked list</text>
      <text transform={`translate(${L.rkLab[1]},${L.rkLab[2]}) rotate(-90)`} dy="0.35em" textAnchor="middle" fontFamily={SERIF} fontSize={11.5} fill="#222">metric</text>
    </g>
  );
}

export default function App() {
  return (
    <div style={{ position: 'absolute', left: 0, top: 0 }}>
      <svg width={949} height={1648} viewBox="0 0 949 1648" style={{ display: 'block' }}>
        <rect x={0} y={0} width={949} height={1648} fill="#efefef" />
        <rect x={7.5} y={10.5} width={960} height={1700} fill="#fff" stroke="#555" strokeWidth={1.5} />
        {panelTitles.map((_, i) => (
          <GseaPanel key={i} idx={i} />
        ))}
      </svg>
    </div>
  );
}
